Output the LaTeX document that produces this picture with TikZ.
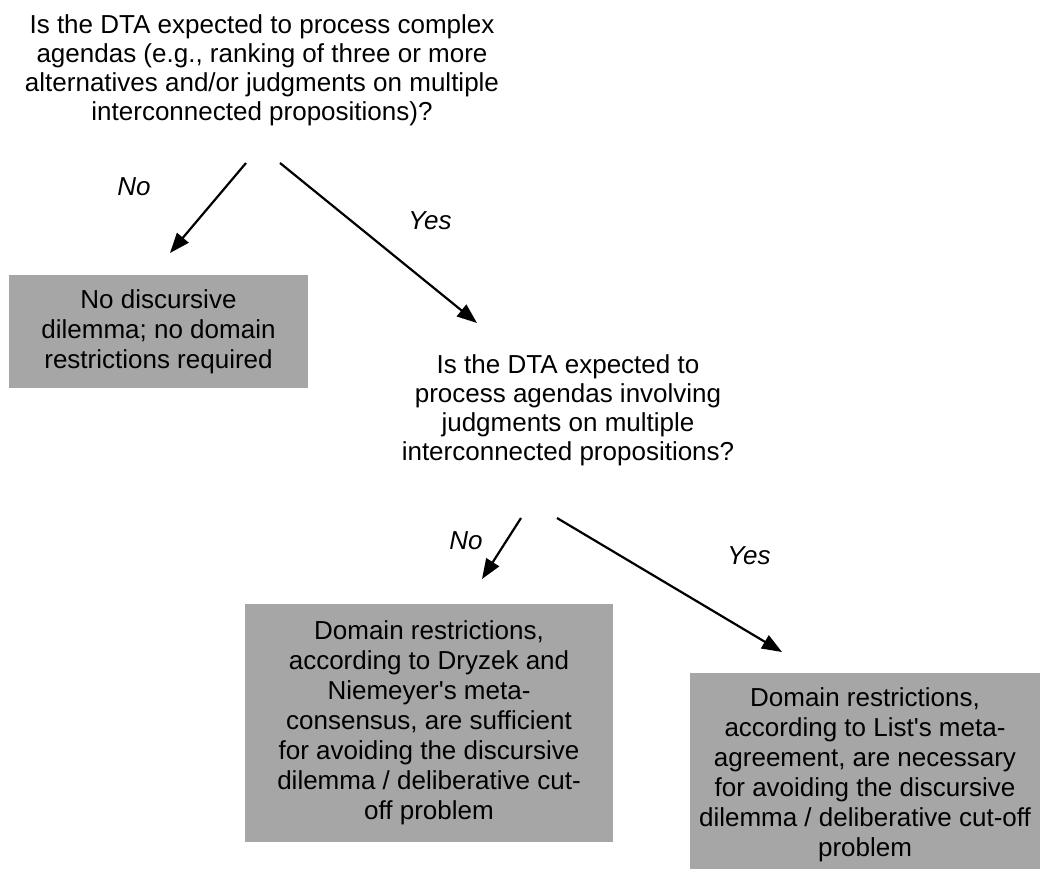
\documentclass[tikz,border=0pt]{standalone}
\usepackage{fontspec}
\newfontfamily\arialf{Liberation Sans}
\usetikzlibrary{arrows.meta}
\definecolor{boxgray}{RGB}{166,166,166}
\begin{document}
\begin{tikzpicture}[x=1pt,y=-1pt,
  txt/.style={font=\arialf\fontsize{26}{29}\selectfont, align=center, inner sep=0pt, text=black},
  graybox/.style={txt, font=\arialf\fontsize{26}{30}\selectfont, fill=boxgray},
  lbl/.style={font=\arialf\itshape\fontsize{26}{29}\selectfont, inner sep=0pt},
  arr/.style={line width=2.2pt, -{Triangle[length=20pt,width=15pt]}}]
\useasboundingbox[fill=white] (0,0) rectangle (1046,869);
\node[txt] (q1) at (262,70) {Is the DTA expected to process complex\\agendas (e.g., ranking of three or more\\alternatives and/or judgments on multiple\\interconnected propositions)?};
\node[graybox, minimum width=299pt, minimum height=113pt] (b1) at (158.5,331.5) {No discursive\\dilemma; no domain\\restrictions required};
\node[txt] (q2) at (568,410) {Is the DTA expected to\\process agendas involving\\judgments on multiple\\interconnected propositions?};
\node[graybox, minimum width=368pt, minimum height=238pt] (b2) at (429,723) {Domain restrictions,\\according to Dryzek and\\Niemeyer's meta-\\consensus, are sufficient\\for avoiding the discursive\\dilemma / deliberative cut-\\off problem};
\node[graybox, minimum width=350pt, minimum height=204pt] (b3) at (865,775) {Domain restrictions,\\according to List's meta-\\agreement, are necessary\\for avoiding the discursive\\dilemma / deliberative cut-off\\problem};
\coordinate (a1s) at (246,163); \coordinate (a1e) at (170,253);
\coordinate (a2s) at (280,163); \coordinate (a2e) at (477,323);
\coordinate (a3s) at (521,518); \coordinate (a3e) at (482,579);
\coordinate (a4s) at (557,518); \coordinate (a4e) at (782,652);
\draw[arr] (a1s) -- (a1e);
\draw[arr] (a2s) -- (a2e);
\draw[arr] (a3s) -- (a3e);
\draw[arr] (a4s) -- (a4e);
\node[lbl] (n1) at (134,187) {No};
\node[lbl] (y1) at (430,221) {Yes};
\node[lbl] (n2) at (466,541) {No};
\node[lbl] (y2) at (749,556) {Yes};
\end{tikzpicture}
\end{document}
